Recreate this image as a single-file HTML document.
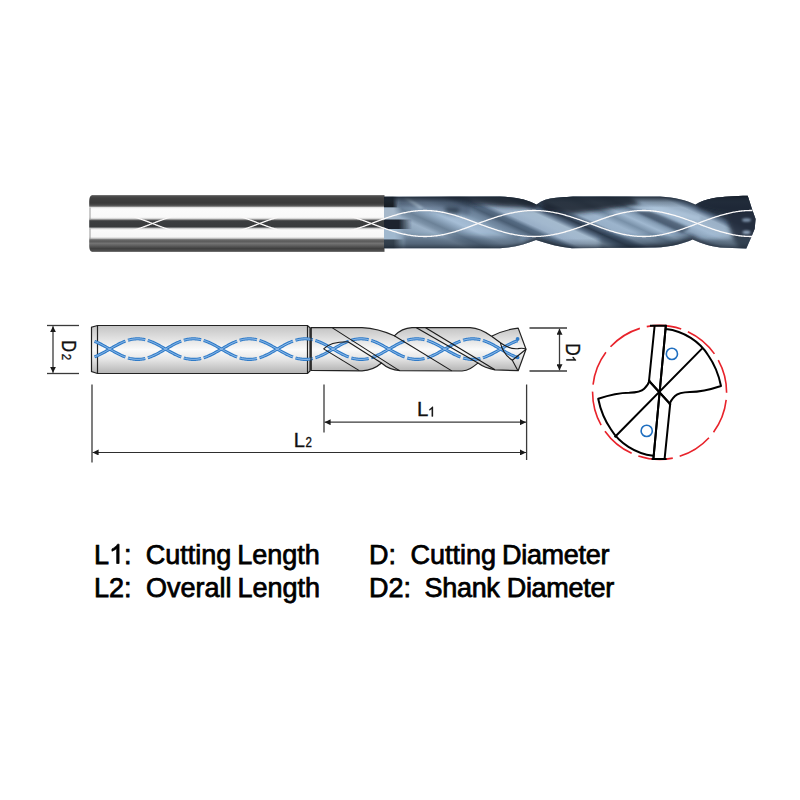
<!DOCTYPE html>
<html><head><meta charset="utf-8">
<style>
html,body{margin:0;padding:0;background:#fff;width:800px;height:800px;overflow:hidden}
svg{display:block}
.t{font-family:"Liberation Sans",sans-serif}
</style></head>
<body>
<svg width="800" height="800" viewBox="0 0 800 800">
<defs>
  <linearGradient id="dshank" x1="0" y1="0" x2="0" y2="1">
    <stop offset="0" stop-color="#c4c4c4"/>
    <stop offset="0.3" stop-color="#e4e4e4"/>
    <stop offset="0.5" stop-color="#fafafa"/>
    <stop offset="0.7" stop-color="#e6e6e6"/>
    <stop offset="1" stop-color="#b4b4b4"/>
  </linearGradient>
  <marker id="ar" viewBox="0 0 10 10" refX="10" refY="5" markerWidth="6.5" markerHeight="6" orient="auto-start-reverse" markerUnits="userSpaceOnUse">
    <path d="M0,0 L10,5 L0,10 z" fill="#1a1a1a"/>
  </marker>
</defs>

<g stroke="#3a3a3a" stroke-width="1.3" fill="none">
  <line x1="47" y1="325.5" x2="79" y2="325.5"/>
  <line x1="47" y1="373.5" x2="79" y2="373.5"/>
  <line x1="53" y1="326.2" x2="53" y2="372.8" marker-start="url(#ar)" marker-end="url(#ar)"/>
  <line x1="529.5" y1="328" x2="567" y2="328"/>
  <line x1="529.5" y1="371" x2="567" y2="371"/>
  <line x1="559.5" y1="328.7" x2="559.5" y2="370.3" marker-start="url(#ar)" marker-end="url(#ar)"/>
  <line x1="92" y1="384.5" x2="92" y2="462.5"/>
  <line x1="324" y1="384.5" x2="324" y2="432.5"/>
  <line x1="526.6" y1="384.5" x2="526.6" y2="460"/>
  <line x1="324.6" y1="422.2" x2="526" y2="422.2" marker-start="url(#ar)" marker-end="url(#ar)"/>
  <line x1="92.6" y1="452.45" x2="526" y2="452.45" stroke="#2e2e2e" stroke-width="1.15" marker-start="url(#ar)" marker-end="url(#ar)"/>
</g>
<g class="t" fill="#111" stroke="#111" stroke-width="0.35">
  <text x="417.08" y="416.3" font-size="20.4">L</text>
  <path transform="translate(427.94,416.4) scale(0.006543,-0.006543)" d="M763,0 H583 V1147 C520,1087 430,1025 223,930 V1104 C380,1177 560,1320 647,1466 H763 Z" stroke-width="50"/>
  <text x="293.65" y="446.9" font-size="20.06">L</text>
  <text transform="translate(305.42,446.9) scale(0.83,1)" font-size="13.9">2</text>
  <g transform="translate(62.3,340.35) rotate(90)">
    <text transform="scale(0.83,1)" font-size="19.8">D</text>
    <text transform="translate(13.47,0) scale(0.87,1)" font-size="13.2">2</text>
  </g>
  <g transform="translate(566.4,343.3) rotate(90)">
    <text transform="scale(0.83,1)" font-size="20.9">D</text>
    <path transform="translate(12.24,0) scale(0.006543,-0.006543)" d="M763,0 H583 V1147 C520,1087 430,1025 223,930 V1104 C380,1177 560,1320 647,1466 H763 Z" stroke-width="50"/>
  </g>
</g>

<path d="M97.5,325.5 L307.5,325.5 L310,327.8 L310,371 L307.5,373.5 L97.5,373.5 L91.5,371.5 L91.5,327.3 Z" fill="url(#dshank)" stroke="#222" stroke-width="1.2"/>
<line x1="97.5" y1="325.5" x2="97.5" y2="373.5" stroke="#222" stroke-width="1.2"/>
<line x1="307.5" y1="325.5" x2="307.5" y2="373.5" stroke="#222" stroke-width="1.2"/>

<path d="M311,327.6 L362,327.6 C372,328 384,331 394.3,335.8 C399,331 404,328 412,327.6 L470,327.6 C478,328 485,331.5 491.5,336.2 C500,332 510,329 518.2,328.1 L526,349.2 L518.2,370.7 L495,369.8 C488,368.6 482,366 478,363 C473,367 469,370.5 462,371 L400,370.6 C392,370.2 386,367 381.5,363 C377,367 371,370.5 362,370.8 L311,370.4 Z" fill="url(#dshank)" stroke="#222" stroke-width="1.2" stroke-linejoin="round"/>
<path d="M94.5,356.87 L95.5,356.48 L96.49,356.07 L97.49,355.63 L98.49,355.17 L99.48,354.7 L100.48,354.21 L101.48,353.7 L102.47,353.17 L103.47,352.64 L104.47,352.09 L105.46,351.53 L106.46,350.97 L107.46,350.4 L108.45,349.82 L109.45,349.25 L110.45,348.67 L111.44,348.09 L112.44,347.52 L113.43,346.95 L114.43,346.39 L115.43,345.84 L116.42,345.3 L117.42,344.77 L118.42,344.25 L119.41,343.75 L120.41,343.26 L121.41,342.8 L122.4,342.35 L123.4,341.92 L124.4,341.52 L125.39,341.14 M127.96,340.28 L128.92,340.01 L129.89,339.76 L130.85,339.54 L131.81,339.35 L132.77,339.18 L133.73,339.05 L134.7,338.94 L135.66,338.86 L136.62,338.82 L137.58,338.8 L138.54,338.81 L139.51,338.86 L140.47,338.93 L141.43,339.03 L142.39,339.17 L143.35,339.33 L144.31,339.52 L145.28,339.74 M147.79,340.44 L148.77,340.76 L149.76,341.11 L150.74,341.48 L151.73,341.87 L152.71,342.29 L153.69,342.73 L154.68,343.19 L155.66,343.66 L156.65,344.15 L157.63,344.66 L158.61,345.18 L159.6,345.72 L160.58,346.26 L161.56,346.81 L162.55,347.37 L163.53,347.93 L164.52,348.5 L165.5,349.07 L166.48,349.64 L167.47,350.21 L168.45,350.77 L169.44,351.33 L170.42,351.89 L171.4,352.43 L172.39,352.97 L173.37,353.49 L174.36,354 L175.34,354.49 L176.32,354.97 L177.31,355.43 L178.29,355.87 L179.28,356.29 L180.26,356.68 L181.24,357.06 M183.81,357.92 L184.77,358.19 L185.74,358.44 L186.7,358.66 L187.66,358.85 L188.62,359.02 L189.58,359.15 L190.55,359.26 L191.51,359.34 L192.47,359.38 L193.43,359.4 L194.39,359.39 L195.36,359.34 L196.32,359.27 L197.28,359.17 L198.24,359.03 L199.2,358.87 L200.16,358.68 L201.13,358.46 M203.64,357.76 L204.62,357.44 L205.61,357.09 L206.59,356.72 L207.58,356.33 L208.56,355.91 L209.54,355.47 L210.53,355.01 L211.51,354.54 L212.5,354.05 L213.48,353.54 L214.46,353.02 L215.45,352.48 L216.43,351.94 L217.41,351.39 L218.4,350.83 L219.38,350.27 L220.37,349.7 L221.35,349.13 L222.33,348.56 L223.32,347.99 L224.3,347.43 L225.29,346.87 L226.27,346.31 L227.25,345.77 L228.24,345.23 L229.22,344.71 L230.21,344.2 L231.19,343.71 L232.17,343.23 L233.16,342.77 L234.14,342.33 L235.13,341.91 L236.11,341.52 L237.09,341.14 M239.66,340.28 L240.62,340.01 L241.59,339.76 L242.55,339.54 L243.51,339.35 L244.47,339.18 L245.43,339.05 L246.4,338.94 L247.36,338.86 L248.32,338.82 L249.28,338.8 L250.24,338.81 L251.21,338.86 L252.17,338.93 L253.13,339.03 L254.09,339.17 L255.05,339.33 L256.01,339.52 L256.98,339.74 M259.49,340.44 L260.47,340.76 L261.46,341.11 L262.44,341.48 L263.43,341.87 L264.41,342.29 L265.39,342.73 L266.38,343.19 L267.36,343.66 L268.35,344.15 L269.33,344.66 L270.31,345.18 L271.3,345.72 L272.28,346.26 L273.26,346.81 L274.25,347.37 L275.23,347.93 L276.22,348.5 L277.2,349.07 L278.18,349.64 L279.17,350.21 L280.15,350.77 L281.14,351.33 L282.12,351.89 L283.1,352.43 L284.09,352.97 L285.07,353.49 L286.06,354 L287.04,354.49 L288.02,354.97 L289.01,355.43 L289.99,355.87 L290.98,356.29 L291.96,356.68 L292.94,357.06 M295.51,357.92 L296.47,358.19 L297.44,358.44 L298.4,358.66 L299.36,358.85 L300.32,359.02 L301.28,359.15 L302.25,359.26 L303.21,359.34 L304.17,359.38 L305.13,359.4 L306.09,359.39 L307.06,359.34 L308.02,359.27 L308.98,359.17 L309.94,359.03 L310.9,358.87 L311.86,358.68 L312.83,358.46 M315.34,357.76 L316.32,357.44 L317.31,357.09 L318.29,356.72 L319.28,356.33 L320.26,355.91 L321.24,355.47 L322.23,355.01 L323.21,354.54 L324.2,354.05 L325.18,353.54 L326.16,353.02 L327.15,352.48 L328.13,351.94 L329.11,351.39 L330.1,350.83 L331.08,350.27 L332.07,349.7 L333.05,349.13 L334.03,348.56 L335.02,347.99 L336,347.43 L336.99,346.87 L337.97,346.31 L338.95,345.77 L339.94,345.23 L340.92,344.71 L341.91,344.2 L342.89,343.71 L343.87,343.23 L344.86,342.77 L345.84,342.33 L346.83,341.91 L347.81,341.52 L348.79,341.14 M351.36,340.28 L352.32,340.01 L353.29,339.76 L354.25,339.54 L355.21,339.35 L356.17,339.18 L357.13,339.05 L358.1,338.94 L359.06,338.86 L360.02,338.82 L360.98,338.8 L361.94,338.81 L362.91,338.86 L363.87,338.93 L364.83,339.03 L365.79,339.17 L366.75,339.33 L367.71,339.52 L368.68,339.74 M371.19,340.44 L372.17,340.76 L373.16,341.11 L374.14,341.48 L375.13,341.87 L376.11,342.29 L377.09,342.73 L378.08,343.19 L379.06,343.66 L380.05,344.15 L381.03,344.66 L382.01,345.18 L383,345.72 L383.98,346.26 L384.96,346.81 L385.95,347.37 L386.93,347.93 L387.92,348.5 L388.9,349.07 L389.88,349.64 L390.87,350.21 L391.85,350.77 L392.84,351.33 L393.82,351.89 L394.8,352.43 L395.79,352.97 L396.77,353.49 L397.76,354 L398.74,354.49 L399.72,354.97 L400.71,355.43 L401.69,355.87 L402.68,356.29 L403.66,356.68 L404.64,357.06 M407.21,357.92 L408.17,358.19 L409.14,358.44 L410.1,358.66 L411.06,358.85 L412.02,359.02 L412.98,359.15 L413.95,359.26 L414.91,359.34 L415.87,359.38 L416.83,359.4 L417.79,359.39 L418.76,359.34 L419.72,359.27 L420.68,359.17 L421.64,359.03 L422.6,358.87 L423.56,358.68 L424.53,358.46 M427.04,357.76 L428.02,357.44 L429.01,357.09 L429.99,356.72 L430.98,356.33 L431.96,355.91 L432.94,355.47 L433.93,355.01 L434.91,354.54 L435.9,354.05 L436.88,353.54 L437.86,353.02 L438.85,352.48 L439.83,351.94 L440.81,351.39 L441.8,350.83 L442.78,350.27 L443.77,349.7 L444.75,349.13 L445.73,348.56 L446.72,347.99 L447.7,347.43 L448.69,346.87 L449.67,346.31 L450.65,345.77 L451.64,345.23 L452.62,344.71 L453.61,344.2 L454.59,343.71 L455.57,343.23 L456.56,342.77 L457.54,342.33 L458.53,341.91 L459.51,341.52 L460.49,341.14 M463.06,340.28 L464.02,340.01 L464.99,339.76 L465.95,339.54 L466.91,339.35 L467.87,339.18 L468.83,339.05 L469.8,338.94 L470.76,338.86 L471.72,338.82 L472.68,338.8 L473.64,338.81 L474.61,338.86 L475.57,338.93 L476.53,339.03 L477.49,339.17 L478.45,339.33 L479.41,339.52 L480.38,339.74 M482.89,340.44 L483.88,340.76 L484.87,341.11 L485.86,341.49 L486.86,341.89 L487.85,342.31 L488.84,342.75 L489.83,343.21 L490.82,343.69 L491.82,344.19 L492.81,344.7 L493.8,345.23 L494.79,345.77 L495.78,346.31 L496.77,346.87 L497.77,347.44 L498.76,348.01 L499.75,348.58 L500.74,349.15 L501.73,349.73 L502.72,350.3 L503.72,350.87 L504.71,351.43 L505.7,351.99 L506.69,352.53 L507.68,353.07 L508.67,353.59 L509.67,354.1 L510.66,354.6 L511.65,355.07 L512.64,355.53 L513.63,355.97 L514.62,356.39 L515.62,356.78 L516.61,357.15 L517.6,357.5 M94.5,341.33 L95.5,341.72 L96.49,342.13 L97.49,342.57 L98.49,343.03 L99.48,343.5 L100.48,343.99 L101.48,344.5 L102.47,345.03 L103.47,345.56 L104.47,346.11 L105.46,346.67 L106.46,347.23 L107.46,347.8 L108.45,348.38 L109.45,348.95 L110.45,349.53 L111.44,350.11 L112.44,350.68 L113.43,351.25 L114.43,351.81 L115.43,352.36 L116.42,352.9 L117.42,353.43 L118.42,353.95 L119.41,354.45 L120.41,354.94 L121.41,355.4 L122.4,355.85 L123.4,356.28 L124.4,356.68 L125.39,357.06 M127.96,357.92 L128.92,358.19 L129.89,358.44 L130.85,358.66 L131.81,358.85 L132.77,359.02 L133.73,359.15 L134.7,359.26 L135.66,359.34 L136.62,359.38 L137.58,359.4 L138.54,359.39 L139.51,359.34 L140.47,359.27 L141.43,359.17 L142.39,359.03 L143.35,358.87 L144.31,358.68 L145.28,358.46 M147.79,357.76 L148.77,357.44 L149.76,357.09 L150.74,356.72 L151.73,356.33 L152.71,355.91 L153.69,355.47 L154.68,355.01 L155.66,354.54 L156.65,354.05 L157.63,353.54 L158.61,353.02 L159.6,352.48 L160.58,351.94 L161.56,351.39 L162.55,350.83 L163.53,350.27 L164.52,349.7 L165.5,349.13 L166.48,348.56 L167.47,347.99 L168.45,347.43 L169.44,346.87 L170.42,346.31 L171.4,345.77 L172.39,345.23 L173.37,344.71 L174.36,344.2 L175.34,343.71 L176.32,343.23 L177.31,342.77 L178.29,342.33 L179.28,341.91 L180.26,341.52 L181.24,341.14 M183.81,340.28 L184.77,340.01 L185.74,339.76 L186.7,339.54 L187.66,339.35 L188.62,339.18 L189.58,339.05 L190.55,338.94 L191.51,338.86 L192.47,338.82 L193.43,338.8 L194.39,338.81 L195.36,338.86 L196.32,338.93 L197.28,339.03 L198.24,339.17 L199.2,339.33 L200.16,339.52 L201.13,339.74 M203.64,340.44 L204.62,340.76 L205.61,341.11 L206.59,341.48 L207.58,341.87 L208.56,342.29 L209.54,342.73 L210.53,343.19 L211.51,343.66 L212.5,344.15 L213.48,344.66 L214.46,345.18 L215.45,345.72 L216.43,346.26 L217.41,346.81 L218.4,347.37 L219.38,347.93 L220.37,348.5 L221.35,349.07 L222.33,349.64 L223.32,350.21 L224.3,350.77 L225.29,351.33 L226.27,351.89 L227.25,352.43 L228.24,352.97 L229.22,353.49 L230.21,354 L231.19,354.49 L232.17,354.97 L233.16,355.43 L234.14,355.87 L235.13,356.29 L236.11,356.68 L237.09,357.06 M239.66,357.92 L240.62,358.19 L241.59,358.44 L242.55,358.66 L243.51,358.85 L244.47,359.02 L245.43,359.15 L246.4,359.26 L247.36,359.34 L248.32,359.38 L249.28,359.4 L250.24,359.39 L251.21,359.34 L252.17,359.27 L253.13,359.17 L254.09,359.03 L255.05,358.87 L256.01,358.68 L256.98,358.46 M259.49,357.76 L260.47,357.44 L261.46,357.09 L262.44,356.72 L263.43,356.33 L264.41,355.91 L265.39,355.47 L266.38,355.01 L267.36,354.54 L268.35,354.05 L269.33,353.54 L270.31,353.02 L271.3,352.48 L272.28,351.94 L273.26,351.39 L274.25,350.83 L275.23,350.27 L276.22,349.7 L277.2,349.13 L278.18,348.56 L279.17,347.99 L280.15,347.43 L281.14,346.87 L282.12,346.31 L283.1,345.77 L284.09,345.23 L285.07,344.71 L286.06,344.2 L287.04,343.71 L288.02,343.23 L289.01,342.77 L289.99,342.33 L290.98,341.91 L291.96,341.52 L292.94,341.14 M295.51,340.28 L296.47,340.01 L297.44,339.76 L298.4,339.54 L299.36,339.35 L300.32,339.18 L301.28,339.05 L302.25,338.94 L303.21,338.86 L304.17,338.82 L305.13,338.8 L306.09,338.81 L307.06,338.86 L308.02,338.93 L308.98,339.03 L309.94,339.17 L310.9,339.33 L311.86,339.52 L312.83,339.74 M315.34,340.44 L316.32,340.76 L317.31,341.11 L318.29,341.48 L319.28,341.87 L320.26,342.29 L321.24,342.73 L322.23,343.19 L323.21,343.66 L324.2,344.15 L325.18,344.66 L326.16,345.18 L327.15,345.72 L328.13,346.26 L329.11,346.81 L330.1,347.37 L331.08,347.93 L332.07,348.5 L333.05,349.07 L334.03,349.64 L335.02,350.21 L336,350.77 L336.99,351.33 L337.97,351.89 L338.95,352.43 L339.94,352.97 L340.92,353.49 L341.91,354 L342.89,354.49 L343.87,354.97 L344.86,355.43 L345.84,355.87 L346.83,356.29 L347.81,356.68 L348.79,357.06 M351.36,357.92 L352.32,358.19 L353.29,358.44 L354.25,358.66 L355.21,358.85 L356.17,359.02 L357.13,359.15 L358.1,359.26 L359.06,359.34 L360.02,359.38 L360.98,359.4 L361.94,359.39 L362.91,359.34 L363.87,359.27 L364.83,359.17 L365.79,359.03 L366.75,358.87 L367.71,358.68 L368.68,358.46 M371.19,357.76 L372.17,357.44 L373.16,357.09 L374.14,356.72 L375.13,356.33 L376.11,355.91 L377.09,355.47 L378.08,355.01 L379.06,354.54 L380.05,354.05 L381.03,353.54 L382.01,353.02 L383,352.48 L383.98,351.94 L384.96,351.39 L385.95,350.83 L386.93,350.27 L387.92,349.7 L388.9,349.13 L389.88,348.56 L390.87,347.99 L391.85,347.43 L392.84,346.87 L393.82,346.31 L394.8,345.77 L395.79,345.23 L396.77,344.71 L397.76,344.2 L398.74,343.71 L399.72,343.23 L400.71,342.77 L401.69,342.33 L402.68,341.91 L403.66,341.52 L404.64,341.14 M407.21,340.28 L408.17,340.01 L409.14,339.76 L410.1,339.54 L411.06,339.35 L412.02,339.18 L412.98,339.05 L413.95,338.94 L414.91,338.86 L415.87,338.82 L416.83,338.8 L417.79,338.81 L418.76,338.86 L419.72,338.93 L420.68,339.03 L421.64,339.17 L422.6,339.33 L423.56,339.52 L424.53,339.74 M427.04,340.44 L428.02,340.76 L429.01,341.11 L429.99,341.48 L430.98,341.87 L431.96,342.29 L432.94,342.73 L433.93,343.19 L434.91,343.66 L435.9,344.15 L436.88,344.66 L437.86,345.18 L438.85,345.72 L439.83,346.26 L440.81,346.81 L441.8,347.37 L442.78,347.93 L443.77,348.5 L444.75,349.07 L445.73,349.64 L446.72,350.21 L447.7,350.77 L448.69,351.33 L449.67,351.89 L450.65,352.43 L451.64,352.97 L452.62,353.49 L453.61,354 L454.59,354.49 L455.57,354.97 L456.56,355.43 L457.54,355.87 L458.53,356.29 L459.51,356.68 L460.49,357.06 M463.06,357.92 L464.02,358.19 L464.99,358.44 L465.95,358.66 L466.91,358.85 L467.87,359.02 L468.83,359.15 L469.8,359.26 L470.76,359.34 L471.72,359.38 L472.68,359.4 L473.64,359.39 L474.61,359.34 L475.57,359.27 L476.53,359.17 L477.49,359.03 L478.45,358.87 L479.41,358.68 L480.38,358.46 M482.89,357.76 L483.88,357.44 L484.87,357.09 L485.86,356.71 L486.86,356.31 L487.85,355.89 L488.84,355.45 L489.83,354.99 L490.82,354.51 L491.82,354.01 L492.81,353.5 L493.8,352.97 L494.79,352.43 L495.78,351.89 L496.77,351.33 L497.77,350.76 L498.76,350.19 L499.75,349.62 L500.74,349.05 L501.73,348.47 L502.72,347.9 L503.72,347.33 L504.71,346.77 L505.7,346.21 L506.69,345.67 L507.68,345.13 L508.67,344.61 L509.67,344.1 L510.66,343.6 L511.65,343.13 L512.64,342.67 L513.63,342.23 L514.62,341.81 L515.62,341.42 L516.61,341.05 L517.6,340.7" fill="none" stroke="#2f7bc8" stroke-width="3.1"/>
<path d="M94.5,356.87 L95.5,356.48 L96.49,356.07 L97.49,355.63 L98.49,355.17 L99.48,354.7 L100.48,354.21 L101.48,353.7 L102.47,353.17 L103.47,352.64 L104.47,352.09 L105.46,351.53 L106.46,350.97 L107.46,350.4 L108.45,349.82 L109.45,349.25 L110.45,348.67 L111.44,348.09 L112.44,347.52 L113.43,346.95 L114.43,346.39 L115.43,345.84 L116.42,345.3 L117.42,344.77 L118.42,344.25 L119.41,343.75 L120.41,343.26 L121.41,342.8 L122.4,342.35 L123.4,341.92 L124.4,341.52 L125.39,341.14 M127.96,340.28 L128.92,340.01 L129.89,339.76 L130.85,339.54 L131.81,339.35 L132.77,339.18 L133.73,339.05 L134.7,338.94 L135.66,338.86 L136.62,338.82 L137.58,338.8 L138.54,338.81 L139.51,338.86 L140.47,338.93 L141.43,339.03 L142.39,339.17 L143.35,339.33 L144.31,339.52 L145.28,339.74 M147.79,340.44 L148.77,340.76 L149.76,341.11 L150.74,341.48 L151.73,341.87 L152.71,342.29 L153.69,342.73 L154.68,343.19 L155.66,343.66 L156.65,344.15 L157.63,344.66 L158.61,345.18 L159.6,345.72 L160.58,346.26 L161.56,346.81 L162.55,347.37 L163.53,347.93 L164.52,348.5 L165.5,349.07 L166.48,349.64 L167.47,350.21 L168.45,350.77 L169.44,351.33 L170.42,351.89 L171.4,352.43 L172.39,352.97 L173.37,353.49 L174.36,354 L175.34,354.49 L176.32,354.97 L177.31,355.43 L178.29,355.87 L179.28,356.29 L180.26,356.68 L181.24,357.06 M183.81,357.92 L184.77,358.19 L185.74,358.44 L186.7,358.66 L187.66,358.85 L188.62,359.02 L189.58,359.15 L190.55,359.26 L191.51,359.34 L192.47,359.38 L193.43,359.4 L194.39,359.39 L195.36,359.34 L196.32,359.27 L197.28,359.17 L198.24,359.03 L199.2,358.87 L200.16,358.68 L201.13,358.46 M203.64,357.76 L204.62,357.44 L205.61,357.09 L206.59,356.72 L207.58,356.33 L208.56,355.91 L209.54,355.47 L210.53,355.01 L211.51,354.54 L212.5,354.05 L213.48,353.54 L214.46,353.02 L215.45,352.48 L216.43,351.94 L217.41,351.39 L218.4,350.83 L219.38,350.27 L220.37,349.7 L221.35,349.13 L222.33,348.56 L223.32,347.99 L224.3,347.43 L225.29,346.87 L226.27,346.31 L227.25,345.77 L228.24,345.23 L229.22,344.71 L230.21,344.2 L231.19,343.71 L232.17,343.23 L233.16,342.77 L234.14,342.33 L235.13,341.91 L236.11,341.52 L237.09,341.14 M239.66,340.28 L240.62,340.01 L241.59,339.76 L242.55,339.54 L243.51,339.35 L244.47,339.18 L245.43,339.05 L246.4,338.94 L247.36,338.86 L248.32,338.82 L249.28,338.8 L250.24,338.81 L251.21,338.86 L252.17,338.93 L253.13,339.03 L254.09,339.17 L255.05,339.33 L256.01,339.52 L256.98,339.74 M259.49,340.44 L260.47,340.76 L261.46,341.11 L262.44,341.48 L263.43,341.87 L264.41,342.29 L265.39,342.73 L266.38,343.19 L267.36,343.66 L268.35,344.15 L269.33,344.66 L270.31,345.18 L271.3,345.72 L272.28,346.26 L273.26,346.81 L274.25,347.37 L275.23,347.93 L276.22,348.5 L277.2,349.07 L278.18,349.64 L279.17,350.21 L280.15,350.77 L281.14,351.33 L282.12,351.89 L283.1,352.43 L284.09,352.97 L285.07,353.49 L286.06,354 L287.04,354.49 L288.02,354.97 L289.01,355.43 L289.99,355.87 L290.98,356.29 L291.96,356.68 L292.94,357.06 M295.51,357.92 L296.47,358.19 L297.44,358.44 L298.4,358.66 L299.36,358.85 L300.32,359.02 L301.28,359.15 L302.25,359.26 L303.21,359.34 L304.17,359.38 L305.13,359.4 L306.09,359.39 L307.06,359.34 L308.02,359.27 L308.98,359.17 L309.94,359.03 L310.9,358.87 L311.86,358.68 L312.83,358.46 M315.34,357.76 L316.32,357.44 L317.31,357.09 L318.29,356.72 L319.28,356.33 L320.26,355.91 L321.24,355.47 L322.23,355.01 L323.21,354.54 L324.2,354.05 L325.18,353.54 L326.16,353.02 L327.15,352.48 L328.13,351.94 L329.11,351.39 L330.1,350.83 L331.08,350.27 L332.07,349.7 L333.05,349.13 L334.03,348.56 L335.02,347.99 L336,347.43 L336.99,346.87 L337.97,346.31 L338.95,345.77 L339.94,345.23 L340.92,344.71 L341.91,344.2 L342.89,343.71 L343.87,343.23 L344.86,342.77 L345.84,342.33 L346.83,341.91 L347.81,341.52 L348.79,341.14 M351.36,340.28 L352.32,340.01 L353.29,339.76 L354.25,339.54 L355.21,339.35 L356.17,339.18 L357.13,339.05 L358.1,338.94 L359.06,338.86 L360.02,338.82 L360.98,338.8 L361.94,338.81 L362.91,338.86 L363.87,338.93 L364.83,339.03 L365.79,339.17 L366.75,339.33 L367.71,339.52 L368.68,339.74 M371.19,340.44 L372.17,340.76 L373.16,341.11 L374.14,341.48 L375.13,341.87 L376.11,342.29 L377.09,342.73 L378.08,343.19 L379.06,343.66 L380.05,344.15 L381.03,344.66 L382.01,345.18 L383,345.72 L383.98,346.26 L384.96,346.81 L385.95,347.37 L386.93,347.93 L387.92,348.5 L388.9,349.07 L389.88,349.64 L390.87,350.21 L391.85,350.77 L392.84,351.33 L393.82,351.89 L394.8,352.43 L395.79,352.97 L396.77,353.49 L397.76,354 L398.74,354.49 L399.72,354.97 L400.71,355.43 L401.69,355.87 L402.68,356.29 L403.66,356.68 L404.64,357.06 M407.21,357.92 L408.17,358.19 L409.14,358.44 L410.1,358.66 L411.06,358.85 L412.02,359.02 L412.98,359.15 L413.95,359.26 L414.91,359.34 L415.87,359.38 L416.83,359.4 L417.79,359.39 L418.76,359.34 L419.72,359.27 L420.68,359.17 L421.64,359.03 L422.6,358.87 L423.56,358.68 L424.53,358.46 M427.04,357.76 L428.02,357.44 L429.01,357.09 L429.99,356.72 L430.98,356.33 L431.96,355.91 L432.94,355.47 L433.93,355.01 L434.91,354.54 L435.9,354.05 L436.88,353.54 L437.86,353.02 L438.85,352.48 L439.83,351.94 L440.81,351.39 L441.8,350.83 L442.78,350.27 L443.77,349.7 L444.75,349.13 L445.73,348.56 L446.72,347.99 L447.7,347.43 L448.69,346.87 L449.67,346.31 L450.65,345.77 L451.64,345.23 L452.62,344.71 L453.61,344.2 L454.59,343.71 L455.57,343.23 L456.56,342.77 L457.54,342.33 L458.53,341.91 L459.51,341.52 L460.49,341.14 M463.06,340.28 L464.02,340.01 L464.99,339.76 L465.95,339.54 L466.91,339.35 L467.87,339.18 L468.83,339.05 L469.8,338.94 L470.76,338.86 L471.72,338.82 L472.68,338.8 L473.64,338.81 L474.61,338.86 L475.57,338.93 L476.53,339.03 L477.49,339.17 L478.45,339.33 L479.41,339.52 L480.38,339.74 M482.89,340.44 L483.88,340.76 L484.87,341.11 L485.86,341.49 L486.86,341.89 L487.85,342.31 L488.84,342.75 L489.83,343.21 L490.82,343.69 L491.82,344.19 L492.81,344.7 L493.8,345.23 L494.79,345.77 L495.78,346.31 L496.77,346.87 L497.77,347.44 L498.76,348.01 L499.75,348.58 L500.74,349.15 L501.73,349.73 L502.72,350.3 L503.72,350.87 L504.71,351.43 L505.7,351.99 L506.69,352.53 L507.68,353.07 L508.67,353.59 L509.67,354.1 L510.66,354.6 L511.65,355.07 L512.64,355.53 L513.63,355.97 L514.62,356.39 L515.62,356.78 L516.61,357.15 L517.6,357.5 M94.5,341.33 L95.5,341.72 L96.49,342.13 L97.49,342.57 L98.49,343.03 L99.48,343.5 L100.48,343.99 L101.48,344.5 L102.47,345.03 L103.47,345.56 L104.47,346.11 L105.46,346.67 L106.46,347.23 L107.46,347.8 L108.45,348.38 L109.45,348.95 L110.45,349.53 L111.44,350.11 L112.44,350.68 L113.43,351.25 L114.43,351.81 L115.43,352.36 L116.42,352.9 L117.42,353.43 L118.42,353.95 L119.41,354.45 L120.41,354.94 L121.41,355.4 L122.4,355.85 L123.4,356.28 L124.4,356.68 L125.39,357.06 M127.96,357.92 L128.92,358.19 L129.89,358.44 L130.85,358.66 L131.81,358.85 L132.77,359.02 L133.73,359.15 L134.7,359.26 L135.66,359.34 L136.62,359.38 L137.58,359.4 L138.54,359.39 L139.51,359.34 L140.47,359.27 L141.43,359.17 L142.39,359.03 L143.35,358.87 L144.31,358.68 L145.28,358.46 M147.79,357.76 L148.77,357.44 L149.76,357.09 L150.74,356.72 L151.73,356.33 L152.71,355.91 L153.69,355.47 L154.68,355.01 L155.66,354.54 L156.65,354.05 L157.63,353.54 L158.61,353.02 L159.6,352.48 L160.58,351.94 L161.56,351.39 L162.55,350.83 L163.53,350.27 L164.52,349.7 L165.5,349.13 L166.48,348.56 L167.47,347.99 L168.45,347.43 L169.44,346.87 L170.42,346.31 L171.4,345.77 L172.39,345.23 L173.37,344.71 L174.36,344.2 L175.34,343.71 L176.32,343.23 L177.31,342.77 L178.29,342.33 L179.28,341.91 L180.26,341.52 L181.24,341.14 M183.81,340.28 L184.77,340.01 L185.74,339.76 L186.7,339.54 L187.66,339.35 L188.62,339.18 L189.58,339.05 L190.55,338.94 L191.51,338.86 L192.47,338.82 L193.43,338.8 L194.39,338.81 L195.36,338.86 L196.32,338.93 L197.28,339.03 L198.24,339.17 L199.2,339.33 L200.16,339.52 L201.13,339.74 M203.64,340.44 L204.62,340.76 L205.61,341.11 L206.59,341.48 L207.58,341.87 L208.56,342.29 L209.54,342.73 L210.53,343.19 L211.51,343.66 L212.5,344.15 L213.48,344.66 L214.46,345.18 L215.45,345.72 L216.43,346.26 L217.41,346.81 L218.4,347.37 L219.38,347.93 L220.37,348.5 L221.35,349.07 L222.33,349.64 L223.32,350.21 L224.3,350.77 L225.29,351.33 L226.27,351.89 L227.25,352.43 L228.24,352.97 L229.22,353.49 L230.21,354 L231.19,354.49 L232.17,354.97 L233.16,355.43 L234.14,355.87 L235.13,356.29 L236.11,356.68 L237.09,357.06 M239.66,357.92 L240.62,358.19 L241.59,358.44 L242.55,358.66 L243.51,358.85 L244.47,359.02 L245.43,359.15 L246.4,359.26 L247.36,359.34 L248.32,359.38 L249.28,359.4 L250.24,359.39 L251.21,359.34 L252.17,359.27 L253.13,359.17 L254.09,359.03 L255.05,358.87 L256.01,358.68 L256.98,358.46 M259.49,357.76 L260.47,357.44 L261.46,357.09 L262.44,356.72 L263.43,356.33 L264.41,355.91 L265.39,355.47 L266.38,355.01 L267.36,354.54 L268.35,354.05 L269.33,353.54 L270.31,353.02 L271.3,352.48 L272.28,351.94 L273.26,351.39 L274.25,350.83 L275.23,350.27 L276.22,349.7 L277.2,349.13 L278.18,348.56 L279.17,347.99 L280.15,347.43 L281.14,346.87 L282.12,346.31 L283.1,345.77 L284.09,345.23 L285.07,344.71 L286.06,344.2 L287.04,343.71 L288.02,343.23 L289.01,342.77 L289.99,342.33 L290.98,341.91 L291.96,341.52 L292.94,341.14 M295.51,340.28 L296.47,340.01 L297.44,339.76 L298.4,339.54 L299.36,339.35 L300.32,339.18 L301.28,339.05 L302.25,338.94 L303.21,338.86 L304.17,338.82 L305.13,338.8 L306.09,338.81 L307.06,338.86 L308.02,338.93 L308.98,339.03 L309.94,339.17 L310.9,339.33 L311.86,339.52 L312.83,339.74 M315.34,340.44 L316.32,340.76 L317.31,341.11 L318.29,341.48 L319.28,341.87 L320.26,342.29 L321.24,342.73 L322.23,343.19 L323.21,343.66 L324.2,344.15 L325.18,344.66 L326.16,345.18 L327.15,345.72 L328.13,346.26 L329.11,346.81 L330.1,347.37 L331.08,347.93 L332.07,348.5 L333.05,349.07 L334.03,349.64 L335.02,350.21 L336,350.77 L336.99,351.33 L337.97,351.89 L338.95,352.43 L339.94,352.97 L340.92,353.49 L341.91,354 L342.89,354.49 L343.87,354.97 L344.86,355.43 L345.84,355.87 L346.83,356.29 L347.81,356.68 L348.79,357.06 M351.36,357.92 L352.32,358.19 L353.29,358.44 L354.25,358.66 L355.21,358.85 L356.17,359.02 L357.13,359.15 L358.1,359.26 L359.06,359.34 L360.02,359.38 L360.98,359.4 L361.94,359.39 L362.91,359.34 L363.87,359.27 L364.83,359.17 L365.79,359.03 L366.75,358.87 L367.71,358.68 L368.68,358.46 M371.19,357.76 L372.17,357.44 L373.16,357.09 L374.14,356.72 L375.13,356.33 L376.11,355.91 L377.09,355.47 L378.08,355.01 L379.06,354.54 L380.05,354.05 L381.03,353.54 L382.01,353.02 L383,352.48 L383.98,351.94 L384.96,351.39 L385.95,350.83 L386.93,350.27 L387.92,349.7 L388.9,349.13 L389.88,348.56 L390.87,347.99 L391.85,347.43 L392.84,346.87 L393.82,346.31 L394.8,345.77 L395.79,345.23 L396.77,344.71 L397.76,344.2 L398.74,343.71 L399.72,343.23 L400.71,342.77 L401.69,342.33 L402.68,341.91 L403.66,341.52 L404.64,341.14 M407.21,340.28 L408.17,340.01 L409.14,339.76 L410.1,339.54 L411.06,339.35 L412.02,339.18 L412.98,339.05 L413.95,338.94 L414.91,338.86 L415.87,338.82 L416.83,338.8 L417.79,338.81 L418.76,338.86 L419.72,338.93 L420.68,339.03 L421.64,339.17 L422.6,339.33 L423.56,339.52 L424.53,339.74 M427.04,340.44 L428.02,340.76 L429.01,341.11 L429.99,341.48 L430.98,341.87 L431.96,342.29 L432.94,342.73 L433.93,343.19 L434.91,343.66 L435.9,344.15 L436.88,344.66 L437.86,345.18 L438.85,345.72 L439.83,346.26 L440.81,346.81 L441.8,347.37 L442.78,347.93 L443.77,348.5 L444.75,349.07 L445.73,349.64 L446.72,350.21 L447.7,350.77 L448.69,351.33 L449.67,351.89 L450.65,352.43 L451.64,352.97 L452.62,353.49 L453.61,354 L454.59,354.49 L455.57,354.97 L456.56,355.43 L457.54,355.87 L458.53,356.29 L459.51,356.68 L460.49,357.06 M463.06,357.92 L464.02,358.19 L464.99,358.44 L465.95,358.66 L466.91,358.85 L467.87,359.02 L468.83,359.15 L469.8,359.26 L470.76,359.34 L471.72,359.38 L472.68,359.4 L473.64,359.39 L474.61,359.34 L475.57,359.27 L476.53,359.17 L477.49,359.03 L478.45,358.87 L479.41,358.68 L480.38,358.46 M482.89,357.76 L483.88,357.44 L484.87,357.09 L485.86,356.71 L486.86,356.31 L487.85,355.89 L488.84,355.45 L489.83,354.99 L490.82,354.51 L491.82,354.01 L492.81,353.5 L493.8,352.97 L494.79,352.43 L495.78,351.89 L496.77,351.33 L497.77,350.76 L498.76,350.19 L499.75,349.62 L500.74,349.05 L501.73,348.47 L502.72,347.9 L503.72,347.33 L504.71,346.77 L505.7,346.21 L506.69,345.67 L507.68,345.13 L508.67,344.61 L509.67,344.1 L510.66,343.6 L511.65,343.13 L512.64,342.67 L513.63,342.23 L514.62,341.81 L515.62,341.42 L516.61,341.05 L517.6,340.7" fill="none" stroke="#a4c8ee" stroke-width="1.0" opacity="0.9"/>
<circle cx="517.6" cy="339" r="1.9" fill="#2f7bc8"/><circle cx="517.6" cy="357.4" r="1.9" fill="#2f7bc8"/>
<g stroke="#1a1a1a" stroke-width="1.1" fill="none" stroke-linejoin="round">
  <line x1="311" y1="327.8" x2="311" y2="370.4"/>
  <path d="M323.6,348.9 C328,344 336,341.6 348,341.7"/>
  <line x1="323.6" y1="348.9" x2="359.3" y2="370.6"/>
  <line x1="348" y1="341.7" x2="381.5" y2="363"/>
  <line x1="332.4" y1="327.9" x2="399" y2="370.4"/>
  <line x1="394.3" y1="335.8" x2="451.8" y2="370.9"/>
  <line x1="416.4" y1="327.7" x2="478" y2="363"/>
  <line x1="425.6" y1="327.7" x2="495" y2="369.8"/>
  <path d="M491.6,336.2 L500.4,342.8 C502,350 506,356 512.3,360.3 L517.8,370.4"/>
  <path d="M500.4,342.8 C506,347 512,349.2 518,348.6 C521,348 523,347.6 526,349.2"/>
  <path d="M512.3,360.3 L526,349.2"/>
</g>

<circle cx="659.6" cy="392.4" r="67" fill="none" stroke="#e8232b" stroke-width="1.6" stroke-dasharray="34.94 7.16" stroke-dashoffset="34.5"/>
<g fill="none" stroke="#000" stroke-width="2" stroke-linejoin="round" stroke-linecap="square">
<path d="M651,325.8 L665.8,325.8 M654.6,326 L649,381 L670,404 M665.8,326 L653.4,459 M666,329 C684,331 700,342 708,355 C715,365 719,376 721,386 C712,389 700,392 690,392 C682,392.2 678,393 675,396 C672,399 670.5,401 669.8,404 M615.3,436.5 L702,348.6"/>
<path d="M654.6,326 L649,381 L670,404 M665.8,326 L653.4,459 M666,329 C684,331 700,342 708,355 C715,365 719,376 721,386 C712,389 700,392 690,392 C682,392.2 678,393 675,396 C672,399 670.5,401 669.8,404 " transform="rotate(180 659.6 392.4)"/>
<path d="M652.6,459 L665.6,459"/>
</g>
<circle cx="671.9" cy="353.9" r="5.6" fill="none" stroke="#1f6fc0" stroke-width="1.6"/>
<circle cx="646.7" cy="430.9" r="5.6" fill="none" stroke="#1f6fc0" stroke-width="1.6"/>
<g class="t" font-size="27" fill="#000" stroke="#000" stroke-width="0.75">
  <text x="94" y="563.5">L</text><path transform="translate(109.02,563.5) scale(0.013184,-0.013184)" d="M763,0 H583 V1147 C520,1087 430,1025 223,930 V1104 C380,1177 560,1320 647,1466 H763 Z" stroke-width="57"/><text x="124.04" y="563.5">:</text>
  <text x="145.7" y="563.5">Cutting</text>
  <text x="237.3" y="563.5">Length</text>
  <text x="94" y="596.5">L2:</text>
  <text x="146" y="596.5">Overall</text>
  <text x="237.5" y="596.5">Length</text>
  <text x="369" y="563.5">D:</text>
  <text x="410.5" y="563.5">Cutting</text>
  <text x="502" y="563.5" letter-spacing="-0.3">Diameter</text>
  <text x="369" y="596.5">D2:</text>
  <text x="424.5" y="596.5" letter-spacing="-0.3">Shank</text>
  <text x="506.7" y="596.5" letter-spacing="-0.3">Diameter</text>
</g>

<defs>
  <linearGradient id="pshank" x1="0" y1="195" x2="0" y2="252" gradientUnits="userSpaceOnUse">
    <stop offset="0.0000" stop-color="#8a8a8a"/>
    <stop offset="0.0175" stop-color="#505050"/>
    <stop offset="0.0526" stop-color="#404040"/>
    <stop offset="0.1404" stop-color="#3a3a3a"/>
    <stop offset="0.1807" stop-color="#4c4c4c"/>
    <stop offset="0.2035" stop-color="#8a8a8a"/>
    <stop offset="0.2211" stop-color="#ececec"/>
    <stop offset="0.2456" stop-color="#fbfbfb"/>
    <stop offset="0.3912" stop-color="#f9f9f9"/>
    <stop offset="0.4175" stop-color="#d0d0d0"/>
    <stop offset="0.4351" stop-color="#7c7c7c"/>
    <stop offset="0.4526" stop-color="#3c3e40"/>
    <stop offset="0.5579" stop-color="#383a3c"/>
    <stop offset="0.5754" stop-color="#8a8c8e"/>
    <stop offset="0.5930" stop-color="#e8e8e8"/>
    <stop offset="0.6228" stop-color="#fafafa"/>
    <stop offset="0.7368" stop-color="#f6f6f6"/>
    <stop offset="0.7614" stop-color="#c4c4c4"/>
    <stop offset="0.7807" stop-color="#7a7a7a"/>
    <stop offset="0.8070" stop-color="#585858"/>
    <stop offset="0.8509" stop-color="#727272"/>
    <stop offset="0.8947" stop-color="#5a5a5a"/>
    <stop offset="0.9386" stop-color="#404040"/>
    <stop offset="0.9737" stop-color="#4c4c4c"/>
    <stop offset="1.0000" stop-color="#7a7a7a"/>
  </linearGradient>
  <linearGradient id="pstripe" x1="320" y1="0" x2="820" y2="0" gradientUnits="userSpaceOnUse" gradientTransform="matrix(1,0,2.2,1,-488.4,0)"><stop offset="0" stop-color="#8aa0b6"/><stop offset="0.13" stop-color="#8aa0b6"/><stop offset="0.15" stop-color="#8fa6bc"/><stop offset="0.18" stop-color="#9cb2c8"/><stop offset="0.2" stop-color="#7c92a8"/><stop offset="0.22" stop-color="#6c8298"/><stop offset="0.25" stop-color="#8ea6be"/><stop offset="0.27" stop-color="#a6bed6"/><stop offset="0.3" stop-color="#9fb7cf"/><stop offset="0.33" stop-color="#7890a8"/><stop offset="0.35" stop-color="#6a8098"/><stop offset="0.37" stop-color="#4a5e74"/><stop offset="0.39" stop-color="#566c84"/><stop offset="0.41" stop-color="#98aec6"/><stop offset="0.44" stop-color="#a2b8ce"/><stop offset="0.47" stop-color="#a4bace"/><stop offset="0.49" stop-color="#5a6e86"/><stop offset="0.51" stop-color="#2c3a4c"/><stop offset="0.53" stop-color="#4a5e76"/><stop offset="0.55" stop-color="#98b0c8"/><stop offset="0.58" stop-color="#9cb4cc"/><stop offset="0.61" stop-color="#7890a8"/><stop offset="0.64" stop-color="#a0b8d0"/><stop offset="0.66" stop-color="#8aa2ba"/><stop offset="0.68" stop-color="#6e849c"/><stop offset="0.7" stop-color="#8ca4bc"/><stop offset="0.73" stop-color="#a2bad2"/><stop offset="0.76" stop-color="#a0b6cc"/><stop offset="0.79" stop-color="#9ab0c6"/><stop offset="0.81" stop-color="#5a6e86"/><stop offset="0.83" stop-color="#2c3848"/><stop offset="0.88" stop-color="#263242"/><stop offset="1" stop-color="#263242"/></linearGradient>
  <linearGradient id="pvert" x1="0" y1="196" x2="0" y2="249" gradientUnits="userSpaceOnUse">
    <stop offset="0" stop-color="#141c28" stop-opacity="0.95"/>
    <stop offset="0.05" stop-color="#1c2633" stop-opacity="0.7"/>
    <stop offset="0.12" stop-color="#26323f" stop-opacity="0.3"/>
    <stop offset="0.22" stop-color="#26323f" stop-opacity="0"/>
    <stop offset="0.8" stop-color="#26323f" stop-opacity="0"/>
    <stop offset="0.9" stop-color="#26323f" stop-opacity="0.25"/>
    <stop offset="0.96" stop-color="#1c2633" stop-opacity="0.55"/>
    <stop offset="1" stop-color="#141c28" stop-opacity="0.8"/>
  </linearGradient>
  <filter id="bl06" x="-10%" y="-30%" width="120%" height="160%"><feGaussianBlur stdDeviation="0.6"/></filter>
  <linearGradient id="fadeD1" x1="383" y1="0" x2="399" y2="0" gradientUnits="userSpaceOnUse"><stop offset="0.6" stop-color="#141a22"/><stop offset="1" stop-color="#141a22" stop-opacity="0"/></linearGradient>
  <linearGradient id="fadeL1" x1="383" y1="0" x2="402" y2="0" gradientUnits="userSpaceOnUse"><stop offset="0.55" stop-color="#a6b8ca"/><stop offset="1" stop-color="#a6b8ca" stop-opacity="0"/></linearGradient>
  <linearGradient id="fadeD2" x1="383" y1="0" x2="412" y2="0" gradientUnits="userSpaceOnUse"><stop offset="0.55" stop-color="#1c242e"/><stop offset="1" stop-color="#1c242e" stop-opacity="0"/></linearGradient>
  <linearGradient id="fadeL2" x1="383" y1="0" x2="404" y2="0" gradientUnits="userSpaceOnUse"><stop offset="0.55" stop-color="#a0b8ce"/><stop offset="1" stop-color="#a0b8ce" stop-opacity="0"/></linearGradient>
  <linearGradient id="fadeD3" x1="383" y1="0" x2="404" y2="0" gradientUnits="userSpaceOnUse"><stop offset="0.5" stop-color="#36424f"/><stop offset="1" stop-color="#36424f" stop-opacity="0"/></linearGradient>
  <filter id="bl2" x="-10%" y="-30%" width="120%" height="160%"><feGaussianBlur stdDeviation="2"/></filter>
  <filter id="bl1" x="-10%" y="-30%" width="120%" height="160%"><feGaussianBlur stdDeviation="1"/></filter>

<clipPath id="cflute"><path d="M384,196.8 L500,196.6 C515,197 527,199.5 536.5,204.4 C542,200.5 548,198.5 556,197.8 C563,197 570,196.4 580,196.4 L660,196.6 C675,197.5 686,200.5 695.4,204.4 C700,201.5 706,199.5 714,198 C722,196.8 735,196 747.7,195.8 L752,209 L755.6,219 L754.7,228.7 L751.2,237.5 L746.3,248.4 L725,247.8 C712,247 702,243.5 692.6,239.4 C684,243.5 672,246.5 655,247.5 L572,248.2 C560,247 548,244 536,240 C526,244 514,247.5 500,248.2 L384,248.2 Z"/></clipPath>
</defs>
<path d="M92,195 L384.5,195 L384.5,252 L92,252 C90.2,251.5 89.3,249.5 89.2,246 L89.2,201 C89.3,197.5 90.2,195.5 92,195 Z" fill="url(#pshank)"/>
<line x1="90" y1="207.5" x2="90" y2="219.5" stroke="#9a9a9a" stroke-width="1"/>
<line x1="90" y1="228.5" x2="90" y2="239" stroke="#9a9a9a" stroke-width="1"/>
<path d="M384,196.8 L500,196.6 C515,197 527,199.5 536.5,204.4 C542,200.5 548,198.5 556,197.8 C563,197 570,196.4 580,196.4 L660,196.6 C675,197.5 686,200.5 695.4,204.4 C700,201.5 706,199.5 714,198 C722,196.8 735,196 747.7,195.8 L752,209 L755.6,219 L754.7,228.7 L751.2,237.5 L746.3,248.4 L725,247.8 C712,247 702,243.5 692.6,239.4 C684,243.5 672,246.5 655,247.5 L572,248.2 C560,247 548,244 536,240 C526,244 514,247.5 500,248.2 L384,248.2 Z" fill="url(#pstripe)"/>
<g clip-path="url(#cflute)">
<g filter="url(#bl06)">
<path d="M383,196 L399,196 L397,207.5 L383,207.5 Z" fill="url(#fadeD1)"/>
<path d="M383,207.5 L402,207.5 L402,219.5 L383,219.5 Z" fill="url(#fadeL1)"/>
<path d="M383,219.5 L412,219.5 L412,229 L383,229 Z" fill="url(#fadeD2)"/>
<path d="M383,229 L404,229 L404,239.5 L383,239.5 Z" fill="url(#fadeL2)"/>
<path d="M383,239.5 L404,239.5 L404,249 L383,249 Z" fill="url(#fadeD3)"/>
</g>
<g filter="url(#bl2)">
<path d="M398,196 L470,196 L470,215 L440,212 L398,206 Z" fill="#3e5066" opacity="0.55"/>
<path d="M404,236 L520,236 L520,250 L404,250 Z" fill="#34465a" opacity="0.45"/>
<path d="M440,196 L537,196 L537,209 L505,207 L470,204 Z" fill="#1a2230" opacity="0.75"/>
<path d="M470,196 L535,196 L537,205 L500,204 Z" fill="#141a24" opacity="0.6"/>
<path d="M537,196 L630,196 L640,204 L605,210 L572,214 L545,211 Z" fill="#141c28" opacity="0.85"/>
<path d="M695,196 L760,196 L760,214 L735,215 L716,212 L700,208 Z" fill="#1c2636" opacity="0.95"/>
<path d="M726,214 L760,212 L760,250 L740,250 L733,238 L729,226 Z" fill="#222e3e" opacity="0.9"/>
<path d="M700,240 L750,237 L748,250 L700,250 Z" fill="#3a4a5c" opacity="0.55"/>
<path d="M445,207 L460,208 L458,214 L446,213 Z" fill="#1e2a3a" opacity="0.7"/>
<path d="M495,250 L515,246 L536,238 L556,244 L575,250 Z" fill="#141c28" opacity="0.85"/>
<path d="M600,250 L640,246 L672,243 L692,236 L705,243 L725,250 Z" fill="#18202c" opacity="0.8"/>
<path d="M600,236 L690,236 L690,250 L600,250 Z" fill="#2a3848" opacity="0.4"/>
</g>
<g filter="url(#bl1)">
<path d="M636,212 L650,211 L690,228 L682,233 Z" fill="#34465a" opacity="0.65"/>
<path d="M625,206 L660,206.5 L700,216 L700,221 L660,213 Z" fill="#b4cae0" opacity="0.55"/>
<path d="M402,196.5 L407,196.5 L424,208 L420,209 Z" fill="#b0c4d6" opacity="0.7"/>
<ellipse cx="746.5" cy="220" rx="4.5" ry="1.8" fill="#90a8c2" opacity="0.85"/>
<ellipse cx="746.5" cy="232.3" rx="4" ry="1.8" fill="#a8c0d8" opacity="0.85"/>
</g>
<rect x="380" y="195" width="380" height="55" fill="url(#pvert)"/>
</g>
<clipPath id="cshk"><rect x="89" y="217.2" width="296" height="13"/></clipPath>
<path d="M89.5,236 L90.5,236.1 L91.5,236.19 L92.5,236.26 L93.5,236.33 L94.5,236.39 L95.5,236.43 L96.5,236.46 L97.5,236.49 L98.5,236.5 L99.5,236.5 L100.5,236.49 L101.5,236.46 L102.5,236.43 L103.5,236.39 L104.5,236.33 L105.5,236.26 L106.5,236.19 L107.5,236.1 L108.5,236 L109.5,235.89 L110.5,235.77 L111.5,235.63 L112.5,235.49 L113.5,235.34 L114.5,235.18 L115.5,235 L116.5,234.82 L117.5,234.63 L118.5,234.43 L119.5,234.22 L120.5,233.99 L121.5,233.76 L122.5,233.53 L123.5,233.28 L124.5,233.02 L125.5,232.76 L126.5,232.49 L127.5,232.21 L128.5,231.92 L129.5,231.63 L130.5,231.33 L131.5,231.02 L132.5,230.7 L133.5,230.38 L134.5,230.06 L135.5,229.72 L136.5,229.38 L137.5,229.04 L138.5,228.69 L139.5,228.34 L140.5,227.99 L141.5,227.63 L142.5,227.26 L143.5,226.9 L144.5,226.53 L145.5,226.15 L146.5,225.78 L147.5,225.4 L148.5,225.02 L149.5,224.64 L150.5,224.26 L151.5,223.88 L152.5,223.5 L153.5,223.12 L154.5,222.74 L155.5,222.36 L156.5,221.98 L157.5,221.6 L158.5,221.22 L159.5,220.85 L160.5,220.47 L161.5,220.1 L162.5,219.74 L163.5,219.37 L164.5,219.01 L165.5,218.66 L166.5,218.31 L167.5,217.96 L168.5,217.62 L169.5,217.28 L170.5,216.94 L171.5,216.62 L172.5,216.3 L173.5,215.98 L174.5,215.67 L175.5,215.37 L176.5,215.08 L177.5,214.79 L178.5,214.51 L179.5,214.24 L180.5,213.98 L181.5,213.72 L182.5,213.47 L183.5,213.24 L184.5,213.01 L185.5,212.78 L186.5,212.57 L187.5,212.37 L188.5,212.18 L189.5,212 L190.5,211.82 L191.5,211.66 L192.5,211.51 L193.5,211.37 L194.5,211.23 L195.5,211.11 L196.5,211 L197.5,210.9 L198.5,210.81 L199.5,210.74 L200.5,210.67 L201.5,210.61 L202.5,210.57 L203.5,210.54 L204.5,210.51 L205.5,210.5 L206.5,210.5 L207.5,210.51 L208.5,210.54 L209.5,210.57 L210.5,210.61 L211.5,210.67 L212.5,210.74 L213.5,210.81 L214.5,210.9 L215.5,211 L216.5,211.11 L217.5,211.23 L218.5,211.37 L219.5,211.51 L220.5,211.66 L221.5,211.82 L222.5,212 L223.5,212.18 L224.5,212.37 L225.5,212.57 L226.5,212.78 L227.5,213.01 L228.5,213.24 L229.5,213.47 L230.5,213.72 L231.5,213.98 L232.5,214.24 L233.5,214.51 L234.5,214.79 L235.5,215.08 L236.5,215.37 L237.5,215.67 L238.5,215.98 L239.5,216.3 L240.5,216.62 L241.5,216.94 L242.5,217.28 L243.5,217.62 L244.5,217.96 L245.5,218.31 L246.5,218.66 L247.5,219.01 L248.5,219.37 L249.5,219.74 L250.5,220.1 L251.5,220.47 L252.5,220.85 L253.5,221.22 L254.5,221.6 L255.5,221.98 L256.5,222.36 L257.5,222.74 L258.5,223.12 L259.5,223.5 L260.5,223.86 L261.5,224.23 L262.5,224.59 L263.5,224.96 L264.5,225.32 L265.5,225.68 L266.5,226.04 L267.5,226.39 L268.5,226.75 L269.5,227.1 L270.5,227.45 L271.5,227.79 L272.5,228.14 L273.5,228.47 L274.5,228.81 L275.5,229.14 L276.5,229.47 L277.5,229.79 L278.5,230.1 L279.5,230.42 L280.5,230.72 L281.5,231.02 L282.5,231.32 L283.5,231.61 L284.5,231.89 L285.5,232.16 L286.5,232.43 L287.5,232.69 L288.5,232.95 L289.5,233.19 L290.5,233.43 L291.5,233.66 L292.5,233.89 L293.5,234.1 L294.5,234.31 L295.5,234.51 L296.5,234.7 L297.5,234.88 L298.5,235.05 L299.5,235.21 L300.5,235.37 L301.5,235.51 L302.5,235.65 L303.5,235.77 L304.5,235.89 L305.5,235.99 L306.5,236.09 L307.5,236.17 L308.5,236.25 L309.5,236.32 L310.5,236.37 L311.5,236.42 L312.5,236.45 L313.5,236.48 L314.5,236.49 L315.5,236.5 L316.5,236.49 L317.5,236.48 L318.5,236.45 L319.5,236.42 L320.5,236.37 L321.5,236.32 L322.5,236.25 L323.5,236.17 L324.5,236.09 L325.5,235.99 L326.5,235.89 L327.5,235.77 L328.5,235.65 L329.5,235.51 L330.5,235.37 L331.5,235.21 L332.5,235.05 L333.5,234.88 L334.5,234.7 L335.5,234.51 L336.5,234.31 L337.5,234.1 L338.5,233.89 L339.5,233.66 L340.5,233.43 L341.5,233.19 L342.5,232.95 L343.5,232.69 L344.5,232.43 L345.5,232.16 L346.5,231.89 L347.5,231.61 L348.5,231.32 L349.5,231.02 L350.5,230.72 L351.5,230.42 L352.5,230.1 L353.5,229.79 L354.5,229.47 L355.5,229.14 L356.5,228.81 L357.5,228.47 L358.5,228.14 L359.5,227.79 L360.5,227.45 L361.5,227.1 L362.5,226.75 L363.5,226.39 L364.5,226.04 L365.5,225.68 L366.5,225.32 L367.5,224.96 L368.5,224.59 L369.5,224.23 L370.5,223.86 L371.5,223.5 L372.5,223.12 L373.5,222.73 L374.5,222.35 L375.5,221.97 L376.5,221.59 L377.5,221.21 L378.5,220.83 L379.5,220.46 L380.5,220.09 L381.5,219.72 L382.5,219.36 L383.5,218.99 L384.5,218.64" fill="none" stroke="#fcfafa" stroke-width="1.3" clip-path="url(#cshk)"/>
<path d="M383.5,218.99 L384.5,218.64 L385.5,218.28 L386.5,217.93 L387.5,217.59 L388.5,217.25 L389.5,216.92 L390.5,216.59 L391.5,216.27 L392.5,215.95 L393.5,215.64 L394.5,215.34 L395.5,215.05 L396.5,214.76 L397.5,214.48 L398.5,214.21 L399.5,213.94 L400.5,213.69 L401.5,213.44 L402.5,213.2 L403.5,212.97 L404.5,212.75 L405.5,212.54 L406.5,212.34 L407.5,212.15 L408.5,211.97 L409.5,211.79 L410.5,211.63 L411.5,211.48 L412.5,211.34 L413.5,211.21 L414.5,211.09 L415.5,210.98 L416.5,210.88 L417.5,210.8 L418.5,210.72 L419.5,210.66 L420.5,210.6 L421.5,210.56 L422.5,210.53 L423.5,210.51 L424.5,210.5 L425.5,210.5 L426.5,210.52 L427.5,210.54 L428.5,210.58 L429.5,210.63 L430.5,210.69 L431.5,210.76 L432.5,210.84 L433.5,210.93 L434.5,211.03 L435.5,211.15 L436.5,211.27 L437.5,211.41 L438.5,211.55 L439.5,211.71 L440.5,211.88 L441.5,212.05 L442.5,212.24 L443.5,212.44 L444.5,212.64 L445.5,212.86 L446.5,213.09 L447.5,213.32 L448.5,213.56 L449.5,213.81 L450.5,214.07 L451.5,214.34 L452.5,214.62 L453.5,214.9 L454.5,215.19 L455.5,215.49 L456.5,215.8 L457.5,216.11 L458.5,216.43 L459.5,216.75 L460.5,217.08 L461.5,217.42 L462.5,217.76 L463.5,218.11 L464.5,218.46 L465.5,218.81 L466.5,219.17 L467.5,219.54 L468.5,219.9 L469.5,220.27 L470.5,220.65 L471.5,221.02 L472.5,221.4 L473.5,221.78 L474.5,222.16 L475.5,222.54 L476.5,222.92 L477.5,223.31 L478.5,223.68 L479.5,224.05 L480.5,224.41 L481.5,224.77 L482.5,225.14 L483.5,225.5 L484.5,225.86 L485.5,226.21 L486.5,226.57 L487.5,226.92 L488.5,227.27 L489.5,227.62 L490.5,227.97 L491.5,228.31 L492.5,228.64 L493.5,228.98 L494.5,229.3 L495.5,229.63 L496.5,229.95 L497.5,230.26 L498.5,230.57 L499.5,230.87 L500.5,231.17 L501.5,231.46 L502.5,231.75 L503.5,232.03 L504.5,232.3 L505.5,232.56 L506.5,232.82 L507.5,233.07 L508.5,233.31 L509.5,233.55 L510.5,233.78 L511.5,234 L512.5,234.21 L513.5,234.41 L514.5,234.6 L515.5,234.79 L516.5,234.96 L517.5,235.13 L518.5,235.29 L519.5,235.44 L520.5,235.58 L521.5,235.71 L522.5,235.83 L523.5,235.94 L524.5,236.04 L525.5,236.13 L526.5,236.21 L527.5,236.28 L528.5,236.35 L529.5,236.4 L530.5,236.44 L531.5,236.47 L532.5,236.49 L533.5,236.5 L534.5,236.5 L535.5,236.49 L536.5,236.47 L537.5,236.44 L538.5,236.4 L539.5,236.35 L540.5,236.28 L541.5,236.21 L542.5,236.13 L543.5,236.04 L544.5,235.94 L545.5,235.83 L546.5,235.71 L547.5,235.58 L548.5,235.44 L549.5,235.29 L550.5,235.13 L551.5,234.96 L552.5,234.79 L553.5,234.6 L554.5,234.41 L555.5,234.21 L556.5,234 L557.5,233.78 L558.5,233.55 L559.5,233.31 L560.5,233.07 L561.5,232.82 L562.5,232.56 L563.5,232.3 L564.5,232.03 L565.5,231.75 L566.5,231.46 L567.5,231.17 L568.5,230.87 L569.5,230.57 L570.5,230.26 L571.5,229.95 L572.5,229.63 L573.5,229.3 L574.5,228.98 L575.5,228.64 L576.5,228.31 L577.5,227.97 L578.5,227.62 L579.5,227.27 L580.5,226.92 L581.5,226.57 L582.5,226.21 L583.5,225.86 L584.5,225.5 L585.5,225.14 L586.5,224.77 L587.5,224.41 L588.5,224.05 L589.5,223.68 L590.5,223.31 L591.5,222.93 L592.5,222.55 L593.5,222.17 L594.5,221.8 L595.5,221.42 L596.5,221.05 L597.5,220.67 L598.5,220.3 L599.5,219.94 L600.5,219.57 L601.5,219.21 L602.5,218.86 L603.5,218.5 L604.5,218.15 L605.5,217.81 L606.5,217.47 L607.5,217.14 L608.5,216.81 L609.5,216.49 L610.5,216.17 L611.5,215.86 L612.5,215.55 L613.5,215.26 L614.5,214.97 L615.5,214.68 L616.5,214.41 L617.5,214.14 L618.5,213.88 L619.5,213.63 L620.5,213.39 L621.5,213.15 L622.5,212.93 L623.5,212.71 L624.5,212.5 L625.5,212.31 L626.5,212.12 L627.5,211.94 L628.5,211.77 L629.5,211.61 L630.5,211.46 L631.5,211.32 L632.5,211.2 L633.5,211.08 L634.5,210.97 L635.5,210.88 L636.5,210.79 L637.5,210.72 L638.5,210.65 L639.5,210.6 L640.5,210.56 L641.5,210.53 L642.5,210.51 L643.5,210.5 L644.5,210.5 L645.5,210.52 L646.5,210.54 L647.5,210.58 L648.5,210.63 L649.5,210.68 L650.5,210.75 L651.5,210.83 L652.5,210.92 L653.5,211.02 L654.5,211.14 L655.5,211.26 L656.5,211.39 L657.5,211.54 L658.5,211.69 L659.5,211.85 L660.5,212.03 L661.5,212.21 L662.5,212.4 L663.5,212.61 L664.5,212.82 L665.5,213.04 L666.5,213.27 L667.5,213.51 L668.5,213.75 L669.5,214.01 L670.5,214.27 L671.5,214.55 L672.5,214.82 L673.5,215.11 L674.5,215.41 L675.5,215.71 L676.5,216.01 L677.5,216.33 L678.5,216.65 L679.5,216.97 L680.5,217.3 L681.5,217.64 L682.5,217.98 L683.5,218.33 L684.5,218.68 L685.5,219.03 L686.5,219.39 L687.5,219.75 L688.5,220.12 L689.5,220.49 L690.5,220.86 L691.5,221.23 L692.5,221.61 L693.5,221.98 L694.5,222.36 L695.5,222.74 L696.5,223.12 L697.5,223.5 L698.5,223.88 L699.5,224.26 L700.5,224.64 L701.5,225.02 L702.5,225.39 L703.5,225.77 L704.5,226.14 L705.5,226.51 L706.5,226.88 L707.5,227.25 L708.5,227.61 L709.5,227.97 L710.5,228.32 L711.5,228.67 L712.5,229.02 L713.5,229.36 L714.5,229.7 L715.5,230.03 L716.5,230.35 L717.5,230.67 L718.5,230.99 L719.5,231.29 L720.5,231.59 L721.5,231.89 L722.5,232.18 L723.5,232.45 L724.5,232.73 L725.5,232.99 L726.5,233.25 L727.5,233.49 L728.5,233.73 L729.5,233.96 L730.5,234.18 L731.5,234.39 L732.5,234.6 L733.5,234.79 L734.5,234.97 L735.5,235.15 L736.5,235.31 L737.5,235.46 L738.5,235.61 L739.5,235.74 L740.5,235.86 L741.5,235.98 L742.5,236.08 L743.5,236.17 L744.5,236.25 L745.5,236.32 L746.5,236.37 L747.5,236.42 L748.5,236.46 L749.5,236.48 L750.5,236.5 L751.5,236.5 L752.5,236.49" fill="none" stroke="#fcfafa" stroke-width="1.3"/>
<path d="M89.5,211 L90.5,210.9 L91.5,210.81 L92.5,210.74 L93.5,210.67 L94.5,210.61 L95.5,210.57 L96.5,210.54 L97.5,210.51 L98.5,210.5 L99.5,210.5 L100.5,210.51 L101.5,210.54 L102.5,210.57 L103.5,210.61 L104.5,210.67 L105.5,210.74 L106.5,210.81 L107.5,210.9 L108.5,211 L109.5,211.11 L110.5,211.23 L111.5,211.37 L112.5,211.51 L113.5,211.66 L114.5,211.82 L115.5,212 L116.5,212.18 L117.5,212.37 L118.5,212.57 L119.5,212.78 L120.5,213.01 L121.5,213.24 L122.5,213.47 L123.5,213.72 L124.5,213.98 L125.5,214.24 L126.5,214.51 L127.5,214.79 L128.5,215.08 L129.5,215.37 L130.5,215.67 L131.5,215.98 L132.5,216.3 L133.5,216.62 L134.5,216.94 L135.5,217.28 L136.5,217.62 L137.5,217.96 L138.5,218.31 L139.5,218.66 L140.5,219.01 L141.5,219.37 L142.5,219.74 L143.5,220.1 L144.5,220.47 L145.5,220.85 L146.5,221.22 L147.5,221.6 L148.5,221.98 L149.5,222.36 L150.5,222.74 L151.5,223.12 L152.5,223.5 L153.5,223.88 L154.5,224.26 L155.5,224.64 L156.5,225.02 L157.5,225.4 L158.5,225.78 L159.5,226.15 L160.5,226.53 L161.5,226.9 L162.5,227.26 L163.5,227.63 L164.5,227.99 L165.5,228.34 L166.5,228.69 L167.5,229.04 L168.5,229.38 L169.5,229.72 L170.5,230.06 L171.5,230.38 L172.5,230.7 L173.5,231.02 L174.5,231.33 L175.5,231.63 L176.5,231.92 L177.5,232.21 L178.5,232.49 L179.5,232.76 L180.5,233.02 L181.5,233.28 L182.5,233.53 L183.5,233.76 L184.5,233.99 L185.5,234.22 L186.5,234.43 L187.5,234.63 L188.5,234.82 L189.5,235 L190.5,235.18 L191.5,235.34 L192.5,235.49 L193.5,235.63 L194.5,235.77 L195.5,235.89 L196.5,236 L197.5,236.1 L198.5,236.19 L199.5,236.26 L200.5,236.33 L201.5,236.39 L202.5,236.43 L203.5,236.46 L204.5,236.49 L205.5,236.5 L206.5,236.5 L207.5,236.49 L208.5,236.46 L209.5,236.43 L210.5,236.39 L211.5,236.33 L212.5,236.26 L213.5,236.19 L214.5,236.1 L215.5,236 L216.5,235.89 L217.5,235.77 L218.5,235.63 L219.5,235.49 L220.5,235.34 L221.5,235.18 L222.5,235 L223.5,234.82 L224.5,234.63 L225.5,234.43 L226.5,234.22 L227.5,233.99 L228.5,233.76 L229.5,233.53 L230.5,233.28 L231.5,233.02 L232.5,232.76 L233.5,232.49 L234.5,232.21 L235.5,231.92 L236.5,231.63 L237.5,231.33 L238.5,231.02 L239.5,230.7 L240.5,230.38 L241.5,230.06 L242.5,229.72 L243.5,229.38 L244.5,229.04 L245.5,228.69 L246.5,228.34 L247.5,227.99 L248.5,227.63 L249.5,227.26 L250.5,226.9 L251.5,226.53 L252.5,226.15 L253.5,225.78 L254.5,225.4 L255.5,225.02 L256.5,224.64 L257.5,224.26 L258.5,223.88 L259.5,223.5 L260.5,223.14 L261.5,222.77 L262.5,222.41 L263.5,222.04 L264.5,221.68 L265.5,221.32 L266.5,220.96 L267.5,220.61 L268.5,220.25 L269.5,219.9 L270.5,219.55 L271.5,219.21 L272.5,218.86 L273.5,218.53 L274.5,218.19 L275.5,217.86 L276.5,217.53 L277.5,217.21 L278.5,216.9 L279.5,216.58 L280.5,216.28 L281.5,215.98 L282.5,215.68 L283.5,215.39 L284.5,215.11 L285.5,214.84 L286.5,214.57 L287.5,214.31 L288.5,214.05 L289.5,213.81 L290.5,213.57 L291.5,213.34 L292.5,213.11 L293.5,212.9 L294.5,212.69 L295.5,212.49 L296.5,212.3 L297.5,212.12 L298.5,211.95 L299.5,211.79 L300.5,211.63 L301.5,211.49 L302.5,211.35 L303.5,211.23 L304.5,211.11 L305.5,211.01 L306.5,210.91 L307.5,210.83 L308.5,210.75 L309.5,210.68 L310.5,210.63 L311.5,210.58 L312.5,210.55 L313.5,210.52 L314.5,210.51 L315.5,210.5 L316.5,210.51 L317.5,210.52 L318.5,210.55 L319.5,210.58 L320.5,210.63 L321.5,210.68 L322.5,210.75 L323.5,210.83 L324.5,210.91 L325.5,211.01 L326.5,211.11 L327.5,211.23 L328.5,211.35 L329.5,211.49 L330.5,211.63 L331.5,211.79 L332.5,211.95 L333.5,212.12 L334.5,212.3 L335.5,212.49 L336.5,212.69 L337.5,212.9 L338.5,213.11 L339.5,213.34 L340.5,213.57 L341.5,213.81 L342.5,214.05 L343.5,214.31 L344.5,214.57 L345.5,214.84 L346.5,215.11 L347.5,215.39 L348.5,215.68 L349.5,215.98 L350.5,216.28 L351.5,216.58 L352.5,216.9 L353.5,217.21 L354.5,217.53 L355.5,217.86 L356.5,218.19 L357.5,218.53 L358.5,218.86 L359.5,219.21 L360.5,219.55 L361.5,219.9 L362.5,220.25 L363.5,220.61 L364.5,220.96 L365.5,221.32 L366.5,221.68 L367.5,222.04 L368.5,222.41 L369.5,222.77 L370.5,223.14 L371.5,223.5 L372.5,223.88 L373.5,224.27 L374.5,224.65 L375.5,225.03 L376.5,225.41 L377.5,225.79 L378.5,226.17 L379.5,226.54 L380.5,226.91 L381.5,227.28 L382.5,227.64 L383.5,228.01 L384.5,228.36" fill="none" stroke="#fcfafa" stroke-width="1.3" clip-path="url(#cshk)"/>
<path d="M383.5,228.01 L384.5,228.36 L385.5,228.72 L386.5,229.07 L387.5,229.41 L388.5,229.75 L389.5,230.08 L390.5,230.41 L391.5,230.73 L392.5,231.05 L393.5,231.36 L394.5,231.66 L395.5,231.95 L396.5,232.24 L397.5,232.52 L398.5,232.79 L399.5,233.06 L400.5,233.31 L401.5,233.56 L402.5,233.8 L403.5,234.03 L404.5,234.25 L405.5,234.46 L406.5,234.66 L407.5,234.85 L408.5,235.03 L409.5,235.21 L410.5,235.37 L411.5,235.52 L412.5,235.66 L413.5,235.79 L414.5,235.91 L415.5,236.02 L416.5,236.12 L417.5,236.2 L418.5,236.28 L419.5,236.34 L420.5,236.4 L421.5,236.44 L422.5,236.47 L423.5,236.49 L424.5,236.5 L425.5,236.5 L426.5,236.48 L427.5,236.46 L428.5,236.42 L429.5,236.37 L430.5,236.31 L431.5,236.24 L432.5,236.16 L433.5,236.07 L434.5,235.97 L435.5,235.85 L436.5,235.73 L437.5,235.59 L438.5,235.45 L439.5,235.29 L440.5,235.12 L441.5,234.95 L442.5,234.76 L443.5,234.56 L444.5,234.36 L445.5,234.14 L446.5,233.91 L447.5,233.68 L448.5,233.44 L449.5,233.19 L450.5,232.93 L451.5,232.66 L452.5,232.38 L453.5,232.1 L454.5,231.81 L455.5,231.51 L456.5,231.2 L457.5,230.89 L458.5,230.57 L459.5,230.25 L460.5,229.92 L461.5,229.58 L462.5,229.24 L463.5,228.89 L464.5,228.54 L465.5,228.19 L466.5,227.83 L467.5,227.46 L468.5,227.1 L469.5,226.73 L470.5,226.35 L471.5,225.98 L472.5,225.6 L473.5,225.22 L474.5,224.84 L475.5,224.46 L476.5,224.08 L477.5,223.69 L478.5,223.32 L479.5,222.95 L480.5,222.59 L481.5,222.23 L482.5,221.86 L483.5,221.5 L484.5,221.14 L485.5,220.79 L486.5,220.43 L487.5,220.08 L488.5,219.73 L489.5,219.38 L490.5,219.03 L491.5,218.69 L492.5,218.36 L493.5,218.02 L494.5,217.7 L495.5,217.37 L496.5,217.05 L497.5,216.74 L498.5,216.43 L499.5,216.13 L500.5,215.83 L501.5,215.54 L502.5,215.25 L503.5,214.97 L504.5,214.7 L505.5,214.44 L506.5,214.18 L507.5,213.93 L508.5,213.69 L509.5,213.45 L510.5,213.22 L511.5,213 L512.5,212.79 L513.5,212.59 L514.5,212.4 L515.5,212.21 L516.5,212.04 L517.5,211.87 L518.5,211.71 L519.5,211.56 L520.5,211.42 L521.5,211.29 L522.5,211.17 L523.5,211.06 L524.5,210.96 L525.5,210.87 L526.5,210.79 L527.5,210.72 L528.5,210.65 L529.5,210.6 L530.5,210.56 L531.5,210.53 L532.5,210.51 L533.5,210.5 L534.5,210.5 L535.5,210.51 L536.5,210.53 L537.5,210.56 L538.5,210.6 L539.5,210.65 L540.5,210.72 L541.5,210.79 L542.5,210.87 L543.5,210.96 L544.5,211.06 L545.5,211.17 L546.5,211.29 L547.5,211.42 L548.5,211.56 L549.5,211.71 L550.5,211.87 L551.5,212.04 L552.5,212.21 L553.5,212.4 L554.5,212.59 L555.5,212.79 L556.5,213 L557.5,213.22 L558.5,213.45 L559.5,213.69 L560.5,213.93 L561.5,214.18 L562.5,214.44 L563.5,214.7 L564.5,214.97 L565.5,215.25 L566.5,215.54 L567.5,215.83 L568.5,216.13 L569.5,216.43 L570.5,216.74 L571.5,217.05 L572.5,217.37 L573.5,217.7 L574.5,218.02 L575.5,218.36 L576.5,218.69 L577.5,219.03 L578.5,219.38 L579.5,219.73 L580.5,220.08 L581.5,220.43 L582.5,220.79 L583.5,221.14 L584.5,221.5 L585.5,221.86 L586.5,222.23 L587.5,222.59 L588.5,222.95 L589.5,223.32 L590.5,223.69 L591.5,224.07 L592.5,224.45 L593.5,224.83 L594.5,225.2 L595.5,225.58 L596.5,225.95 L597.5,226.33 L598.5,226.7 L599.5,227.06 L600.5,227.43 L601.5,227.79 L602.5,228.14 L603.5,228.5 L604.5,228.85 L605.5,229.19 L606.5,229.53 L607.5,229.86 L608.5,230.19 L609.5,230.51 L610.5,230.83 L611.5,231.14 L612.5,231.45 L613.5,231.74 L614.5,232.03 L615.5,232.32 L616.5,232.59 L617.5,232.86 L618.5,233.12 L619.5,233.37 L620.5,233.61 L621.5,233.85 L622.5,234.07 L623.5,234.29 L624.5,234.5 L625.5,234.69 L626.5,234.88 L627.5,235.06 L628.5,235.23 L629.5,235.39 L630.5,235.54 L631.5,235.68 L632.5,235.8 L633.5,235.92 L634.5,236.03 L635.5,236.12 L636.5,236.21 L637.5,236.28 L638.5,236.35 L639.5,236.4 L640.5,236.44 L641.5,236.47 L642.5,236.49 L643.5,236.5 L644.5,236.5 L645.5,236.48 L646.5,236.46 L647.5,236.42 L648.5,236.37 L649.5,236.32 L650.5,236.25 L651.5,236.17 L652.5,236.08 L653.5,235.98 L654.5,235.86 L655.5,235.74 L656.5,235.61 L657.5,235.46 L658.5,235.31 L659.5,235.15 L660.5,234.97 L661.5,234.79 L662.5,234.6 L663.5,234.39 L664.5,234.18 L665.5,233.96 L666.5,233.73 L667.5,233.49 L668.5,233.25 L669.5,232.99 L670.5,232.73 L671.5,232.45 L672.5,232.18 L673.5,231.89 L674.5,231.59 L675.5,231.29 L676.5,230.99 L677.5,230.67 L678.5,230.35 L679.5,230.03 L680.5,229.7 L681.5,229.36 L682.5,229.02 L683.5,228.67 L684.5,228.32 L685.5,227.97 L686.5,227.61 L687.5,227.25 L688.5,226.88 L689.5,226.51 L690.5,226.14 L691.5,225.77 L692.5,225.39 L693.5,225.02 L694.5,224.64 L695.5,224.26 L696.5,223.88 L697.5,223.5 L698.5,223.12 L699.5,222.74 L700.5,222.36 L701.5,221.98 L702.5,221.61 L703.5,221.23 L704.5,220.86 L705.5,220.49 L706.5,220.12 L707.5,219.75 L708.5,219.39 L709.5,219.03 L710.5,218.68 L711.5,218.33 L712.5,217.98 L713.5,217.64 L714.5,217.3 L715.5,216.97 L716.5,216.65 L717.5,216.33 L718.5,216.01 L719.5,215.71 L720.5,215.41 L721.5,215.11 L722.5,214.82 L723.5,214.55 L724.5,214.27 L725.5,214.01 L726.5,213.75 L727.5,213.51 L728.5,213.27 L729.5,213.04 L730.5,212.82 L731.5,212.61 L732.5,212.4 L733.5,212.21 L734.5,212.03 L735.5,211.85 L736.5,211.69 L737.5,211.54 L738.5,211.39 L739.5,211.26 L740.5,211.14 L741.5,211.02 L742.5,210.92 L743.5,210.83 L744.5,210.75 L745.5,210.68 L746.5,210.63 L747.5,210.58 L748.5,210.54 L749.5,210.52 L750.5,210.5 L751.5,210.5 L752.5,210.51" fill="none" stroke="#fcfafa" stroke-width="1.3"/>
</svg>
</body></html>
